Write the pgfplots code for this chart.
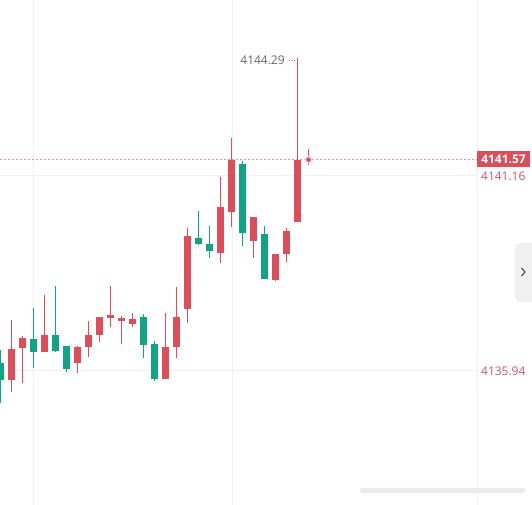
\documentclass[border=0pt]{standalone}
\usepackage{fontspec}
\setmainfont{Open Sans}
\usepackage{pgfplots}
\usepackage{pgfplotstable}
\pgfplotsset{compat=1.18}
\definecolor{upred}{HTML}{D9505C}
\definecolor{dngreen}{HTML}{12A384}
\definecolor{lblred}{HTML}{CC5570}
\definecolor{gridc}{HTML}{F1F1F1}

\pgfplotstableread{
x o h l c
1 4135.67 4137.28 4135.35 4136.50
2 4136.53 4136.85 4135.59 4136.80
4 4136.42 4137.95 4136.42 4136.88
7 4136.13 4136.58 4135.86 4136.56
8 4136.56 4137.25 4136.29 4136.88
9 4136.88 4137.36 4136.69 4137.36
10 4137.33 4138.19 4137.09 4137.41
11 4137.25 4137.39 4136.64 4137.33
12 4137.17 4137.47 4137.09 4137.31
15 4135.70 4137.47 4135.70 4136.56
16 4136.56 4138.16 4136.26 4137.36
17 4137.57 4139.74 4137.20 4139.53
20 4139.07 4141.11 4138.80 4140.30
21 4140.17 4142.15 4139.77 4141.56
23 4139.39 4140.04 4138.94 4140.04
25 4138.35 4139.05 4138.32 4139.05
26 4139.05 4139.74 4138.83 4139.66
27 4139.90 4144.29 4139.90 4141.57
}\up

\pgfplotstableread{
x o h l c
0 4136.13 4136.48 4135.06 4135.67
3 4136.77 4137.60 4135.99 4136.42
5 4136.88 4138.19 4136.42 4136.45
6 4136.58 4136.58 4135.89 4135.97
13 4137.36 4137.44 4136.26 4136.61
14 4136.64 4136.72 4135.65 4135.70
18 4139.47 4140.20 4139.29 4139.31
19 4139.31 4139.80 4138.94 4139.13
22 4141.45 4141.54 4139.26 4139.61
24 4139.58 4139.80 4138.38 4138.38
}\down

\pgfplotstableread{
x o h l c
28 4141.55 4141.86 4141.43 4141.57
}\live

\begin{document}
\begin{tikzpicture}[x=1bp,y=1bp]
\path[use as bounding box] (0,0) rectangle (532,505);
\begin{axis}[
  at={(0,0)}, anchor=south west,
  scale only axis, width=477bp, height=505bp,
  xmin=-0.0454545, xmax=43.318182,
  ymin=4132.327, ymax=4145.844,
  axis line style={draw=none},
  tick style={draw=none},
  xtick={2.9545,21.045}, xticklabels={},
  ytick={4135.94,4141.16}, yticklabels={4135.94,4141.16},
  xmajorgrids, ymajorgrids,
  grid style={gridc, line width=0.8bp},
  yticklabel pos=right,
  yticklabel style={font=\fontsize{12}{14}\selectfont, text=lblred, anchor=west, inner sep=0pt, xshift=4bp, yshift=-1bp},
  candle/.style={draw=none, mark=none, forget plot, error bars/.cd, y dir=plus, y explicit, error mark=none},
]
% current price dashed line
\draw[upred!60, dash pattern=on 2bp off 2bp, line width=0.8bp] (axis cs:-0.05,4141.57) -- (axis cs:43.32,4141.57);

% wicks
\addplot[candle, error bar style={draw=upred, line width=1.1bp}]
  table[x=x, y=l, y error plus expr=\thisrow{h}-\thisrow{l}] {\up};
\addplot[candle, error bar style={draw=dngreen, line width=1.1bp}]
  table[x=x, y=l, y error plus expr=\thisrow{h}-\thisrow{l}] {\down};
% bodies
\addplot[candle, error bar style={draw=upred, line width=7bp}]
  table[x=x, y=o, y error plus expr={max(\thisrow{c}-\thisrow{o},0.03)}] {\up};
\addplot[candle, error bar style={draw=dngreen, line width=7bp}]
  table[x=x, y=c, y error plus expr={max(\thisrow{o}-\thisrow{c},0.03)}] {\down};
% live candle
\addplot[only marks, mark=*, mark size=3.6bp, mark options={fill=upred!22, draw=upred!22}, forget plot]
  table[x=x, y=c] {\live};
\addplot[candle, error bar style={draw=upred, line width=1bp}]
  table[x=x, y=l, y error plus expr=\thisrow{h}-\thisrow{l}] {\live};
\addplot[only marks, mark=*, mark size=2bp, mark options={fill=upred, draw=upred}, forget plot]
  table[x=x, y=c] {\live};

% high label
\draw[upred, dotted, line width=0.8bp] (axis cs:26.2,4144.24) -- (axis cs:27,4144.24);
\node[anchor=east, text=black!60, font=\fontsize{12}{14}\selectfont, inner sep=0pt] at (axis cs:25.85,4144.22) {4144.29};
\end{axis}

% right border
\draw[gridc, line width=0.8bp] (477,0) -- (477,505);
% last price box
\fill[upred] (477,338) rectangle (530,354);
\node[text=white, font=\fontsize{12}{14}\selectfont\bfseries, inner sep=0pt] at (503.5,346) {4141.57};
% side tab
\fill[black!6, rounded corners=5bp] (515,203) rectangle (540,262);
\draw[black!70, line width=1.1bp] (521.5,237) -- (525,233) -- (521.5,229);
% watermark smudge
\fill[black!8, rounded corners=2bp] (360,12) rectangle (525,17);
\end{tikzpicture}
\end{document}
